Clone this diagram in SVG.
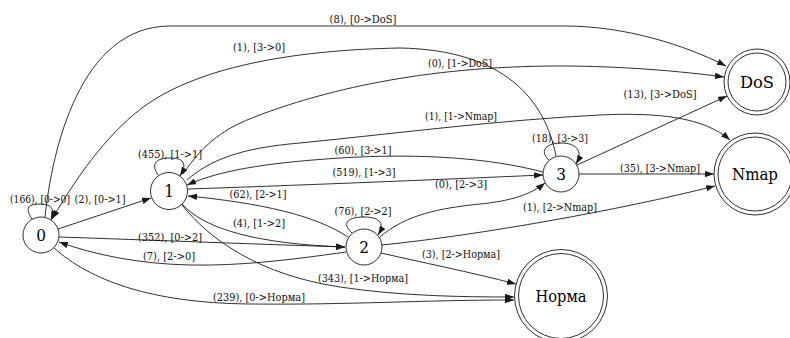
<svg xmlns="http://www.w3.org/2000/svg" width="790" height="338" viewBox="0 0 790 338">
<style>
  .e { fill: none; stroke: #1a1a1a; stroke-width: 0.9; marker-end: url(#ah); }
  .lab { font-family: 'DejaVu Serif Condensed', 'DejaVu Serif', serif; font-size: 11.5px; fill: #111; text-anchor: middle; }
  .nc { fill: #fff; stroke: #1a1a1a; stroke-width: 0.9; }
  .nt { font-family: 'DejaVu Serif Condensed', 'DejaVu Serif', serif; font-size: 17px; fill: #000; text-anchor: middle; }
</style>
<defs>
  <marker id="ah" viewBox="0 0 9 6.4" refX="9" refY="3.2" markerWidth="9" markerHeight="6.4" markerUnits="userSpaceOnUse" orient="auto">
    <path d="M0,0 L9,3.2 L0,6.4 z" fill="#1a1a1a"/>
  </marker>
</defs>
<rect width="790" height="338" fill="#fff"/>
<g id="connectors">
  <path class="e" d="M45,217 C52,150 80,26 170,26 L565,26 C625,26 685,45 726,66"/>
  <text class="lab" x="363" y="23" textLength="67" lengthAdjust="spacingAndGlyphs">(8), [0-&gt;DoS]</text>
  <path class="e" d="M556,156 C545,100 505,50 400,48 C290,50 195,68 142,108 C105,136 75,180 52,219"/>
  <text class="lab" x="259" y="51" textLength="52" lengthAdjust="spacingAndGlyphs">(1), [3-&gt;0]</text>
  <path class="e" d="M183,174 C205,142 225,128 257,116 C320,92 420,66 560,66 C620,66 680,71 724,77"/>
  <text class="lab" x="460" y="67" textLength="64" lengthAdjust="spacingAndGlyphs">(0), [1-&gt;DoS]</text>
  <path class="e" d="M187,180 C210,160 240,148 300,143 C400,133 500,120 600,115 C660,112 705,118 730,140"/>
  <text class="lab" x="461" y="120" textLength="72" lengthAdjust="spacingAndGlyphs">(1), [1-&gt;Nmap]</text>
  <path class="e" d="M577,165 L727,96"/>
  <text class="lab" x="660" y="98" textLength="73" lengthAdjust="spacingAndGlyphs">(13), [3-&gt;DoS]</text>
  <path class="e" d="M543,172 C490,158 420,153 340,158 C280,162 225,168 187,185"/>
  <text class="lab" x="363" y="154" textLength="57" lengthAdjust="spacingAndGlyphs">(60), [3-&gt;1]</text>
  <path class="e" d="M188,189 C280,186 430,180 543,175"/>
  <text class="lab" x="364" y="176" textLength="63" lengthAdjust="spacingAndGlyphs">(519), [1-&gt;3]</text>
  <path class="e" d="M348,237 C315,215 260,203 188,196"/>
  <text class="lab" x="258" y="198" textLength="57" lengthAdjust="spacingAndGlyphs">(62), [2-&gt;1]</text>
  <path class="e" d="M182,204 C205,230 260,244 345,247"/>
  <text class="lab" x="259" y="227" textLength="52" lengthAdjust="spacingAndGlyphs">(4), [1-&gt;2]</text>
  <path class="e" d="M59,237 C150,240 250,244 345,247"/>
  <text class="lab" x="170" y="241" textLength="64" lengthAdjust="spacingAndGlyphs">(352), [0-&gt;2]</text>
  <path class="e" d="M346,252 C290,260 240,266 190,265 C140,264 95,255 59,242"/>
  <text class="lab" x="169" y="260" textLength="52" lengthAdjust="spacingAndGlyphs">(7), [2-&gt;0]</text>
  <path class="e" d="M54,248 C90,280 150,303 250,304 C350,305 420,300 514,300"/>
  <text class="lab" x="259" y="301" textLength="92" lengthAdjust="spacingAndGlyphs">(239), [0-&gt;Норма]</text>
  <path class="e" d="M182,205 C210,240 260,275 340,287 C400,296 460,297 514,297"/>
  <text class="lab" x="363" y="282" textLength="90" lengthAdjust="spacingAndGlyphs">(343), [1-&gt;Норма]</text>
  <path class="e" d="M381,253 C420,262 470,272 516,284"/>
  <text class="lab" x="461" y="258" textLength="78" lengthAdjust="spacingAndGlyphs">(3), [2-&gt;Норма]</text>
  <path class="e" d="M380,237 C405,215 440,208 480,204 C510,201 530,195 545,183"/>
  <text class="lab" x="461" y="188" textLength="52" lengthAdjust="spacingAndGlyphs">(0), [2-&gt;3]</text>
  <path class="e" d="M382,245 C480,235 620,210 715,186"/>
  <text class="lab" x="560" y="211" textLength="74" lengthAdjust="spacingAndGlyphs">(1), [2-&gt;Nmap]</text>
  <path class="e" d="M579,174 L714,174"/>
  <text class="lab" x="660" y="172" textLength="80" lengthAdjust="spacingAndGlyphs">(35), [3-&gt;Nmap]</text>
  <path class="e" d="M58,229 L151,198"/>
  <text class="lab" x="100" y="203" textLength="51" lengthAdjust="spacingAndGlyphs">(2), [0-&gt;1]</text>
  <path class="e" d="M32,219 C24,207 29,204 41,204 C52,204 55,210 51,220"/>
  <text class="lab" x="40" y="203" textLength="60" lengthAdjust="spacingAndGlyphs">(166), [0-&gt;0]</text>
  <path class="e" d="M158,175 C150,163 157,158 170,158 C183,158 188,163 180,176"/>
  <text class="lab" x="170" y="158" textLength="64" lengthAdjust="spacingAndGlyphs">(455), [1-&gt;1]</text>
  <path class="e" d="M352,233 C340,222 350,217 364,217 C378,217 386,222 378,235"/>
  <text class="lab" x="363" y="215" textLength="57" lengthAdjust="spacingAndGlyphs">(76), [2-&gt;2]</text>
  <path class="e" d="M549,160 C538,150 548,143 561,143 C575,143 584,150 576,164"/>
  <text class="lab" x="560" y="142" textLength="56" lengthAdjust="spacingAndGlyphs">(18), [3-&gt;3]</text>
</g>
<g id="node0">
  <circle class="nc" cx="41" cy="235" r="18"/>
  <text class="nt" x="41" y="241">0</text>
</g>
<g id="node1">
  <circle class="nc" cx="169" cy="191" r="18.5"/>
  <text class="nt" x="169" y="197">1</text>
</g>
<g id="node2">
  <circle class="nc" cx="364" cy="247" r="18"/>
  <text class="nt" x="364" y="253">2</text>
</g>
<g id="node3">
  <circle class="nc" cx="561" cy="174" r="18"/>
  <text class="nt" x="561" y="180">3</text>
</g>
<g id="nodeDoS">
  <circle class="nc" cx="757" cy="82" r="33"/>
  <circle class="nc" cx="757" cy="82" r="29"/>
  <text class="nt" x="757" y="88" textLength="34" lengthAdjust="spacingAndGlyphs">DoS</text>
</g>
<g id="nodeNmap">
  <circle class="nc" cx="755" cy="174" r="41"/>
  <circle class="nc" cx="755" cy="174" r="37"/>
  <text class="nt" x="755" y="180" textLength="46" lengthAdjust="spacingAndGlyphs">Nmap</text>
</g>
<g id="nodeNorma">
  <circle class="nc" cx="561" cy="296" r="46.5"/>
  <circle class="nc" cx="561" cy="296" r="42.5"/>
  <text class="nt" x="561" y="302" textLength="51" lengthAdjust="spacingAndGlyphs">Норма</text>
</g>
</svg>
